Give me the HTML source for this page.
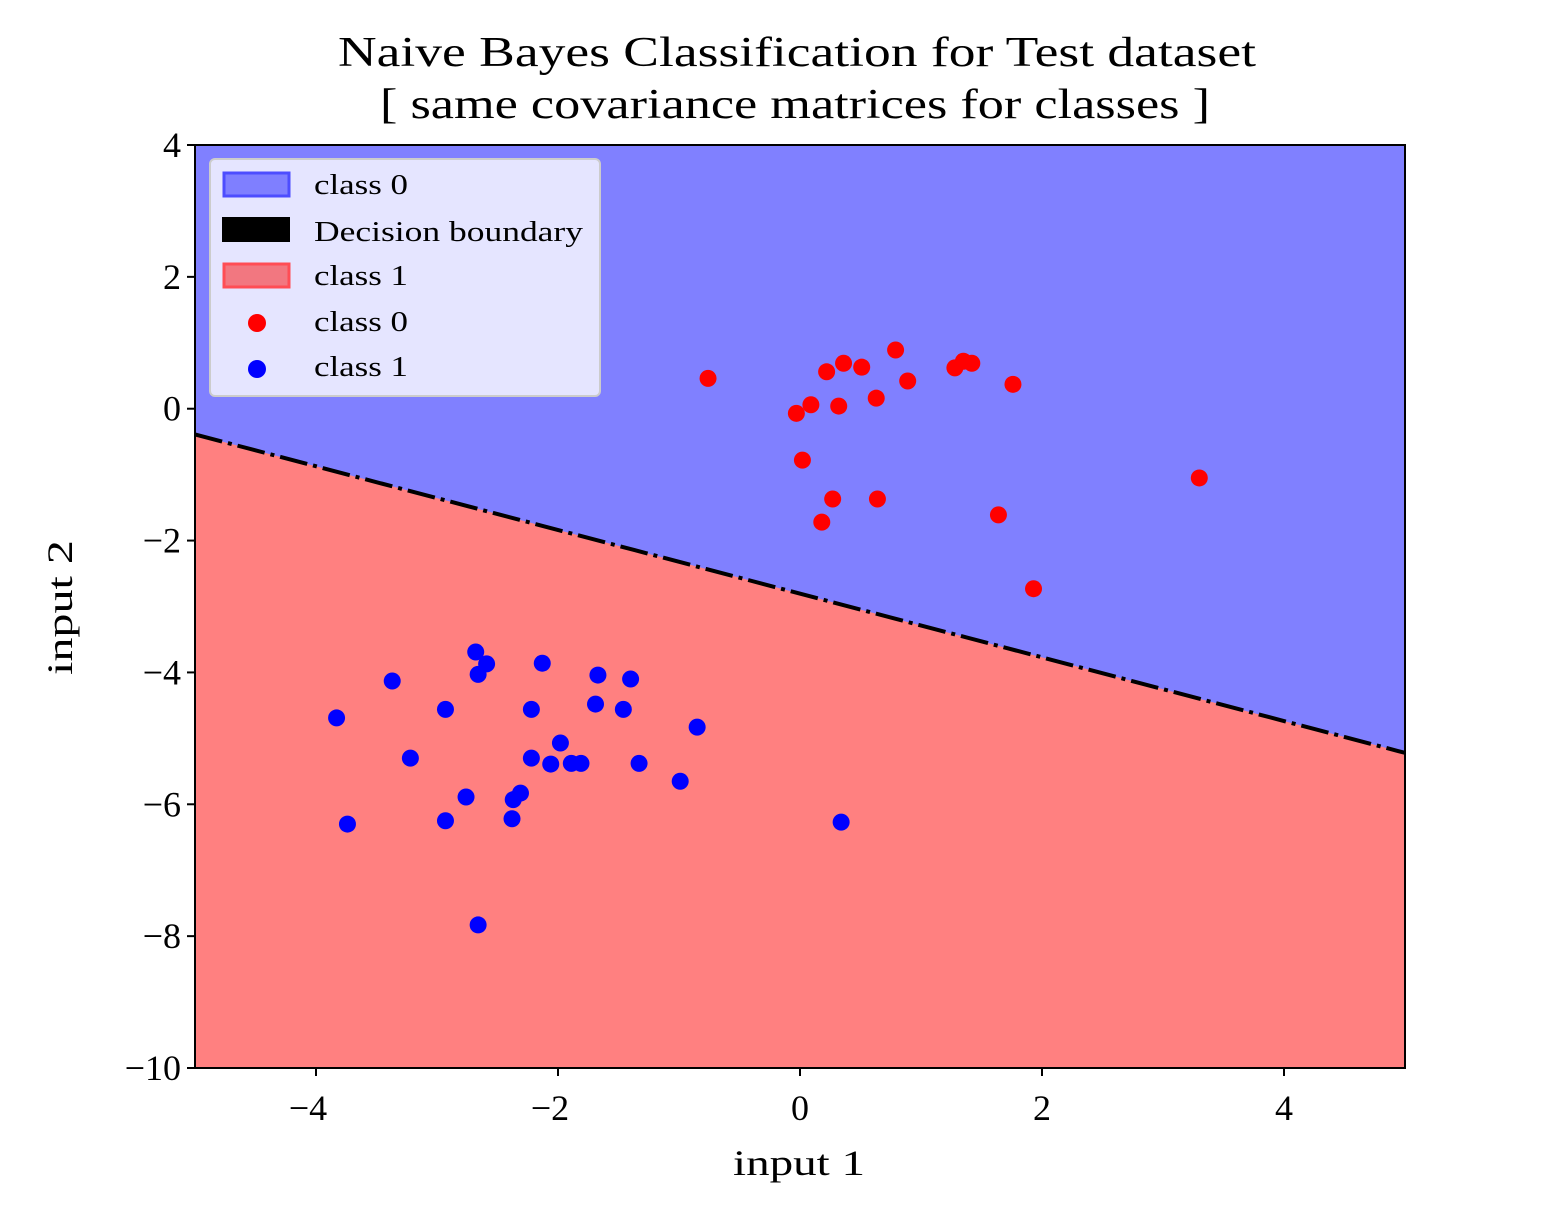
<!DOCTYPE html>
<html><head><meta charset="utf-8"><style>
body{margin:0;background:#fff}
svg text{font-family:"Liberation Serif",serif;fill:#000}
</style></head><body>
<svg id="chart" width="1560" height="1200" xmlns="http://www.w3.org/2000/svg">
<g id="plot"></g>
<text x="338" y="66" font-size="42" textLength="918" lengthAdjust="spacingAndGlyphs">Naive Bayes Classification for Test dataset</text>
<text x="380" y="118" font-size="42" textLength="830" lengthAdjust="spacingAndGlyphs">[ same covariance matrices for classes ]</text>
<text x="733" y="1175" font-size="36" textLength="132" lengthAdjust="spacingAndGlyphs">input 1</text>
<text x="0" y="0" font-size="36" textLength="135" lengthAdjust="spacingAndGlyphs" transform="translate(72 675) rotate(-90)">input 2</text>
<g>
<rect x="210" y="159" width="390" height="237" rx="5" fill="#e5e5ff" stroke="#cccccc" stroke-width="2"/>
<rect x="224" y="173" width="65" height="23" fill="#7f7fff" stroke="#4d4dff" stroke-width="3"/>
<text x="314" y="194" font-size="28" textLength="94" lengthAdjust="spacingAndGlyphs">class 0</text>
<rect x="222" y="217" width="68" height="25" fill="#000"/>
<text x="314" y="241" font-size="28" textLength="269" lengthAdjust="spacingAndGlyphs">Decision boundary</text>
<rect x="224" y="264" width="65" height="23" fill="#f27780" stroke="#ff4d55" stroke-width="3"/>
<text x="314" y="285" font-size="28" textLength="94" lengthAdjust="spacingAndGlyphs">class 1</text>
<circle cx="257" cy="323" r="9" fill="#ff0000"/>
<text x="314" y="331" font-size="28" textLength="94" lengthAdjust="spacingAndGlyphs">class 0</text>
<circle cx="257" cy="369" r="9" fill="#0000ff"/>
<text x="314" y="376" font-size="28" textLength="94" lengthAdjust="spacingAndGlyphs">class 1</text>
</g>
</svg>
<script>
const boundaryX=[-5,5];
const boundaryY=[-0.39,-5.22];
const redX=[-0.76,-0.03,0.09,0.32,0.22,0.36,0.51,0.79,0.63,0.89,1.28,1.35,1.42,1.76,0.02,0.27,0.64,0.18,1.64,1.93,3.30];
const redY=[0.46,-0.07,0.06,0.04,0.56,0.69,0.63,0.89,0.16,0.42,0.62,0.72,0.69,0.37,-0.78,-1.37,-1.37,-1.72,-1.61,-2.73,-1.05];
const blueX=[-2.68,-2.59,-2.66,-2.13,-3.37,-3.83,-2.93,-2.22,-1.67,-1.40,-1.69,-1.46,-0.85,-3.22,-1.98,-2.22,-2.06,-1.89,-1.81,-1.33,-0.99,-2.76,-2.31,-2.37,-3.74,-2.93,-2.38,0.34,-2.66];
const blueY=[-3.69,-3.87,-4.03,-3.86,-4.13,-4.69,-4.56,-4.56,-4.04,-4.10,-4.48,-4.56,-4.83,-5.30,-5.07,-5.30,-5.39,-5.38,-5.38,-5.38,-5.65,-5.89,-5.83,-5.93,-6.30,-6.25,-6.22,-6.27,-7.83];
const xTicks=[-4,-2,0,2,4];
const yTicks=[4,2,0,-2,-4,-6,-8,-10];
const X0=195,X1=1405,Y0=145,Y1=1068,xmin=-5,xmax=5,ymin=-10,ymax=4;
const sx=v=>X0+(v-xmin)/(xmax-xmin)*(X1-X0);
const sy=v=>Y1-(v-ymin)/(ymax-ymin)*(Y1-Y0);
const NS="http://www.w3.org/2000/svg";
const g=document.getElementById('plot');
function mk(t,a){const e=document.createElementNS(NS,t);for(const k in a)e.setAttribute(k,a[k]);g.appendChild(e);return e;}
const bx0=sx(boundaryX[0]),by0=sy(boundaryY[0]),bx1=sx(boundaryX[1]),by1=sy(boundaryY[1]);
let e=mk('rect',{x:X0,y:Y0,width:X1-X0,height:Y1-Y0,fill:'#8080ff'});


e=mk('polygon',{points:`${bx0},${by0} ${bx1},${by1} ${X1},${Y1} ${X0},${Y1}`,fill:'#ff8080'});


e=mk('line',{x1:bx0,y1:by0,x2:bx1,y2:by1,stroke:'#000','stroke-width':4,'stroke-dasharray':'28 6 4 6'});


redX.forEach((v,i)=>{const c=mk('circle',{cx:sx(v),cy:sy(redY[i]),r:8.5,fill:'#ff0000'});

});
blueX.forEach((v,i)=>{const c=mk('circle',{cx:sx(v),cy:sy(blueY[i]),r:8.5,fill:'#0000ff'});

});
e=mk('rect',{x:X0,y:Y0,width:X1-X0,height:Y1-Y0,fill:'none',stroke:'#000','stroke-width':2});


const fmt=v=>v<0?'\u2212'+Math.abs(v):String(v);
xTicks.forEach(v=>{const x=sx(v);
const l=mk('line',{x1:x,y1:Y1,x2:x,y2:Y1+8,stroke:'#000','stroke-width':2});


const t=mk('text',{x:v<0?x-8:x,y:Y1+52,'font-size':36,'text-anchor':'middle'});t.textContent=fmt(v);

});
yTicks.forEach(v=>{const y=sy(v);
const l=mk('line',{x1:X0-8,y1:y,x2:X0,y2:y,stroke:'#000','stroke-width':2});


const t=mk('text',{x:X0-14,y:y+12,'font-size':36,'text-anchor':'end'});t.textContent=fmt(v);

});
</script>
</body></html>
